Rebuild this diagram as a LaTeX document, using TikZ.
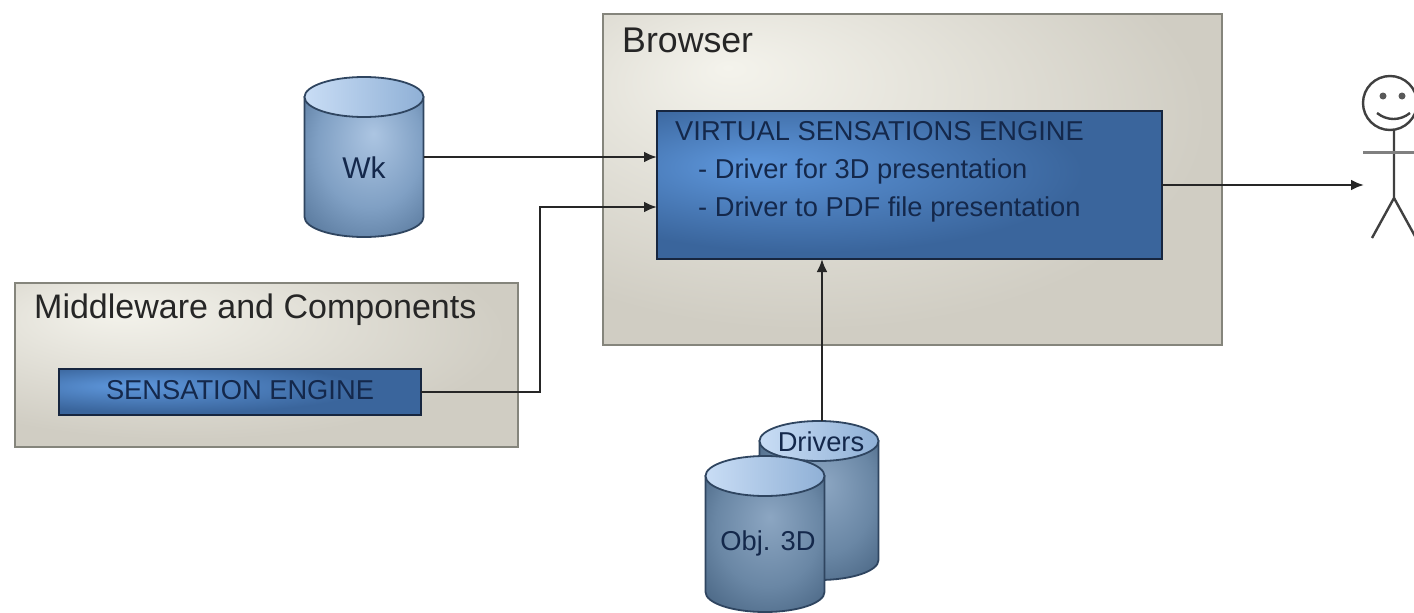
\documentclass[tikz,border=0pt]{standalone}
\usepackage{fontspec}
\setmainfont{Liberation Sans}
\usetikzlibrary{calc,arrows.meta}
\definecolor{inktext}{HTML}{14284B}
\definecolor{frameline}{HTML}{85857C}
\definecolor{wireline}{HTML}{262626}
\definecolor{blueline}{HTML}{17263F}
\definecolor{drumline}{HTML}{2F4560}
\definecolor{lidlight}{HTML}{C9DDF5}
\definecolor{liddark}{HTML}{8FB0D6}
\definecolor{panelhi}{HTML}{F4F3EC}
\definecolor{panello}{HTML}{D0CDC3}
\definecolor{bluehi}{HTML}{5E97DC}
\definecolor{bluelo}{HTML}{3A659C}
\definecolor{drumhi}{HTML}{ACC5E2}
\definecolor{drummid}{HTML}{80A0C4}
\definecolor{drumlo}{HTML}{4C6C90}
\definecolor{dimhi}{HTML}{8CA6C2}
\definecolor{dimmid}{HTML}{6A87A5}
\definecolor{dimlo}{HTML}{3E5A78}
\pgfdeclareradialshading{panelglow}{\pgfpoint{-15bp}{17bp}}{color(0bp)=(panelhi);color(32bp)=(panello);color(70bp)=(panello)}
\pgfdeclareradialshading{blueglow}{\pgfpoint{-16bp}{7bp}}{color(0bp)=(bluehi);color(27bp)=(bluelo);color(70bp)=(bluelo)}
\pgfdeclareradialshading{drumglow}{\pgfpoint{4bp}{12bp}}{color(0bp)=(drumhi);color(22bp)=(drummid);color(42bp)=(drumlo);color(60bp)=(drumlo)}
\pgfdeclareradialshading{drumdim}{\pgfpoint{2bp}{10bp}}{color(0bp)=(dimhi);color(22bp)=(dimmid);color(42bp)=(dimlo);color(60bp)=(dimlo)}
\tikzset{
    panel/.style={draw=frameline,line width=1.8pt,shading=panelglow,inner sep=0pt,outer sep=0pt},
    bluebox/.style={draw=blueline,line width=2pt,shading=blueglow,inner sep=0pt,outer sep=0pt},
    wire/.style={draw=wireline,line width=2.4pt,-{Latex[length=13pt,width=11pt]}},
    txt/.style={font=\fontsize{27.3}{30}\selectfont,text=inktext,inner sep=0pt},
    headtxt/.style={anchor=north west,text=black!85,inner sep=0pt},
    stick/.style={line width=2.4pt,draw=black!75},
}
% name, x, lid centre y, base centre y, body shading
\newcommand{\drum}[5]{%
    \draw[draw=drumline,line width=1.8pt,shading=#5] (#2-59.5,#3) -- (#2-59.5,#4)
        arc[start angle=180,end angle=0,x radius=59.5,y radius=20] -- (#2+59.5,#3) -- cycle;
    \draw[draw=drumline,line width=1.8pt,left color=lidlight,right color=liddark] (#2,#3) ellipse[x radius=59.5,y radius=20];
    \node[minimum width=119pt,minimum height={(#4-#3+40)*1pt},inner sep=0pt,outer sep=0pt] (#1) at ({#2},{(#3+#4)/2}) {};
}
\begin{document}
\begin{tikzpicture}[x=1pt,y=-1pt]
    \clip (0,0) rectangle (1414,613);
    \fill[white] (0,0) rectangle (1414,613);
    % panels
    \node[panel,minimum width=619pt,minimum height=331pt] (browser) at (912.5,179.5) {};
    \node[headtxt,font=\fontsize{35.7}{38}\selectfont] (browserlabel) at (622,28) {Browser};
    \node[panel,minimum width=503pt,minimum height=164pt] (middleware) at (266.5,365) {};
    \node[headtxt,font=\fontsize{34}{38}\selectfont] (middlewarelabel) at (34,294) {Middleware and Components};
    % blue boxes
    \node[bluebox,minimum width=505pt,minimum height=148pt] (engine) at (909.5,185) {};
    \node[txt,anchor=west] (enginetitle) at (675,131) {VIRTUAL SENSATIONS ENGINE};
    \node[txt,anchor=west] (driverthree) at (698,171) {- Driver for 3D presentation};
    \node[txt,anchor=west] (driverpdf) at (698,209) {- Driver to PDF file presentation};
    \node[bluebox,minimum width=362pt,minimum height=46pt] (sensation) at (240,392) {};
    \node[txt] (sensationlabel) at (240,390) {SENSATION ENGINE};
    % stores
    \drum{wk}{364}{97}{217}{drumglow}
    \node[txt,font=\fontsize{30}{32}\selectfont] (wklabel) at (364,168) {Wk};
    \drum{drivers}{819}{441}{560}{drumdim}
    \node[txt] (driverslabel) at (821,442) {Drivers};
    \drum{objthree}{765}{476}{592}{drumdim}
    \node[txt] (objthreelabel) at (768,543) {Obj. 3D};
    % person
    \coordinate (person) at (1364,185);
    \draw[stick] (1390,103) circle[radius=27];
    \fill[black!65] (1383,96) circle[radius=3.5] (1402,96) circle[radius=3.5];
    \draw[stick] (1377,113) .. controls (1387,121) and (1400,121) .. (1410,113);
    \draw[stick] (1394,130) -- (1394,198) -- (1372,238);
    \draw[stick] (1394,198) -- (1416,238);
    \draw[line width=3pt,draw=black!50] (1363,152) -- (1414,152);
    % arrows
    \coordinate (wkin) at (engine.west |- wk.east);
    \coordinate (sensationin) at ($(engine.west)+(0,22)$);
    \coordinate (driversout) at ($(drivers.north)+(3,0)$);
    \coordinate (driversin) at (driversout |- engine.south);
    \draw[wire] (wk.east) -- (wkin);
    \draw[wire] (sensation.east) -| (540,207) -- (sensationin);
    \draw[wire] (driversout) -- (driversin);
    \draw[wire] (engine.east) -- (person);
\end{tikzpicture}
\end{document}
